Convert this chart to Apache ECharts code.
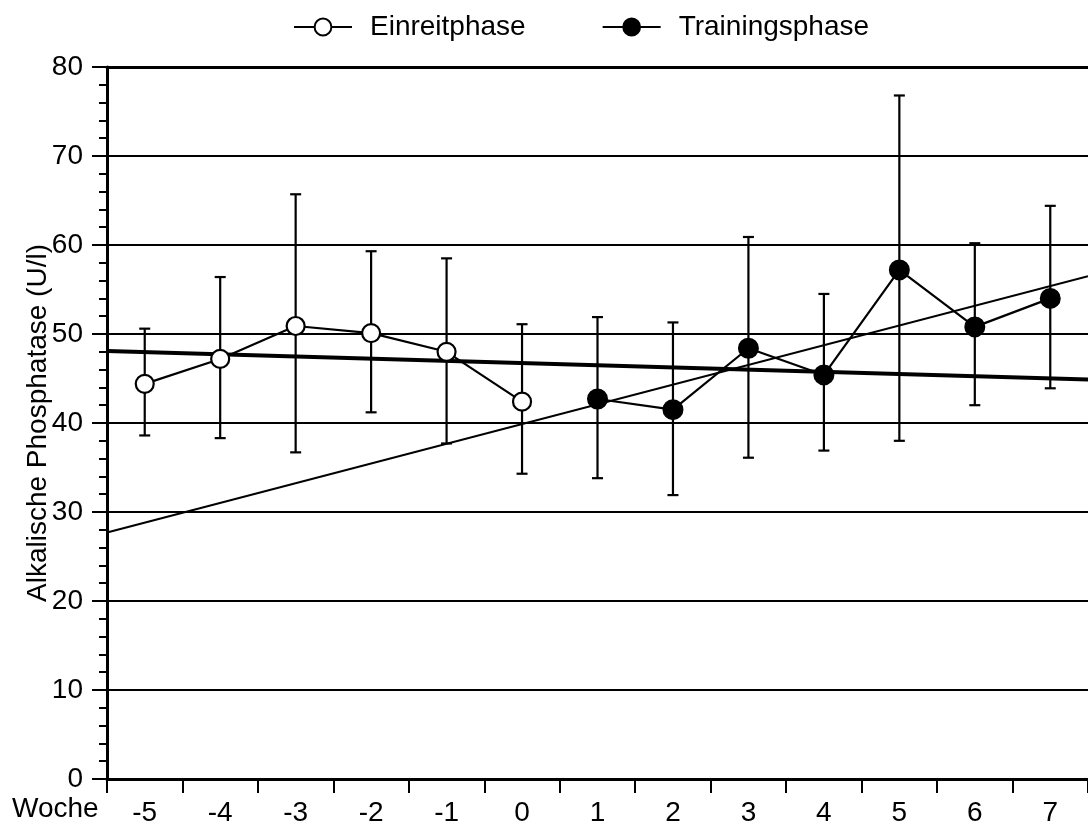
<!DOCTYPE html>
<html>
<head>
<meta charset="utf-8">
<script src="https://cdn.jsdelivr.net/npm/echarts@6/dist/echarts.min.js"></script>
<style>html,body{margin:0;padding:0;background:#fff}#c{width:1088px;height:827px}</style>
</head>
<body>
<div id="c"></div>
<script>
const weeks = ['-5','-4','-3','-2','-1','0','1','2','3','4','5','6','7'];
const einreitMean = [44.4, 47.2, 50.9, 50.1, 48.0, 42.4, null, null, null, null, null, null, null];
const einreitHigh = [50.6, 56.4, 65.7, 59.3, 58.5, 51.1, null, null, null, null, null, null, null];
const einreitLow  = [38.6, 38.3, 36.7, 41.2, 37.7, 34.3, null, null, null, null, null, null, null];
const trainMean = [null, null, null, null, null, null, 42.7, 41.5, 48.4, 45.4, 57.2, 50.8, 54.0];
const trainHigh = [null, null, null, null, null, null, 51.9, 51.3, 60.9, 54.5, 76.8, 60.2, 64.4];
const trainLow  = [null, null, null, null, null, null, 33.8, 31.9, 36.1, 36.9, 38.0, 42.0, 43.9];
const trendX = [-5.5, 7.5];
const trendRising = [27.7, 56.5];
const trendFlat = [48.1, 44.9];
const yTicks = [0, 10, 20, 30, 40, 50, 60, 70, 80];

const FONT = '"Liberation Sans", Arial, Helvetica, sans-serif';
const FS = 28;

function errData(high, low) {
  const out = [];
  for (let i = 0; i < weeks.length; i++) {
    if (high[i] != null) out.push([i, low[i], high[i]]);
  }
  return out;
}
function pairs(xs, ys) { return xs.map((x, i) => [x, ys[i]]); }

const errRender = function (params, api) {
  const x = api.value(0);
  const lo = api.coord([x, api.value(1)]);
  const hi = api.coord([x, api.value(2)]);
  const w = 5.5;
  const st = { stroke: '#000', lineWidth: 2.2 };
  return {
    type: 'group',
    children: [
      { type: 'line', shape: { x1: hi[0], y1: hi[1], x2: lo[0], y2: lo[1] }, style: st },
      { type: 'line', shape: { x1: hi[0] - w, y1: hi[1], x2: hi[0] + w, y2: hi[1] }, style: st },
      { type: 'line', shape: { x1: lo[0] - w, y1: lo[1], x2: lo[0] + w, y2: lo[1] }, style: st }
    ]
  };
};

const chart = echarts.init(document.getElementById('c'), null, { renderer: 'canvas' });
chart.setOption({
  backgroundColor: '#fff',
  animation: false,
  textStyle: { fontFamily: FONT, color: '#000' },
  legend: {
    left: 288,
    top: 8,
    itemWidth: 58,
    itemHeight: 21,
    itemGap: 76,
    data: ['Einreitphase', 'Trainingsphase'],
    textStyle: { fontFamily: FONT, fontSize: FS, color: '#000', padding: [0, 0, 0, 13] }
  },
  grid: { left: 107, right: 0, top: 67, bottom: 45, containLabel: false },
  xAxis: [
    {
      type: 'category',
      data: weeks,
      boundaryGap: true,
      position: 'bottom',
      axisLine: { show: true, onZero: false, lineStyle: { color: '#000', width: 3 } },
      axisTick: { show: true, inside: false, length: 14, lineStyle: { color: '#000', width: 2 } },
      axisLabel: { color: '#000', fontFamily: FONT, fontSize: FS, margin: 20, interval: 0 },
      splitLine: { show: false }
    },
    {
      type: 'value',
      min: trendX[0],
      max: trendX[1],
      position: 'top',
      axisLine: { show: true, onZero: false, lineStyle: { color: '#000', width: 3 } },
      axisTick: { show: false },
      axisLabel: { show: false },
      splitLine: { show: false }
    }
  ],
  yAxis: {
    type: 'value',
    min: yTicks[0],
    max: yTicks[yTicks.length - 1],
    interval: 10,
    position: 'left',
    name: 'Alkalische Phosphatase (U/l)',
    nameLocation: 'middle',
    nameGap: 55,
    nameMoveOverlap: false,
    nameTextStyle: { fontFamily: FONT, fontSize: FS, color: '#000' },
    axisLine: { show: true, onZero: false, lineStyle: { color: '#000', width: 3 } },
    axisTick: { show: true, length: 15, lineStyle: { color: '#000', width: 2 } },
    minorTick: { show: true, splitNumber: 5, length: 8, lineStyle: { color: '#000', width: 2 } },
    axisLabel: { color: '#000', fontFamily: FONT, fontSize: FS, margin: 24 },
    splitLine: { show: true, lineStyle: { color: '#000', width: 2 } }
  },
  graphic: [
    { type: 'text', left: 12, top: 795, style: { text: 'Woche', font: FS + 'px ' + FONT, fill: '#000' } }
  ],
  series: [
    {
      name: 'trendRising', type: 'line', xAxisIndex: 1, data: pairs(trendX, trendRising),
      symbol: 'none', lineStyle: { color: '#000', width: 2 }, silent: true, z: 1
    },
    {
      name: 'trendFlat', type: 'line', xAxisIndex: 1, data: pairs(trendX, trendFlat),
      symbol: 'none', lineStyle: { color: '#000', width: 4 }, silent: true, z: 1
    },
    {
      name: 'errE', type: 'custom', xAxisIndex: 0, data: errData(einreitHigh, einreitLow),
      renderItem: errRender, z: 2
    },
    {
      name: 'errT', type: 'custom', xAxisIndex: 0, data: errData(trainHigh, trainLow),
      renderItem: errRender, z: 2
    },
    {
      name: 'Einreitphase', type: 'line', xAxisIndex: 0, data: einreitMean,
      symbol: 'circle', symbolSize: 18, showSymbol: true, connectNulls: false,
      lineStyle: { color: '#000', width: 2.2 },
      itemStyle: { color: '#fff', borderColor: '#000', borderWidth: 2.2 }, z: 3
    },
    {
      name: 'Trainingsphase', type: 'line', xAxisIndex: 0, data: trainMean,
      symbol: 'circle', symbolSize: 19, showSymbol: true, connectNulls: false,
      lineStyle: { color: '#000', width: 2.2 },
      itemStyle: { color: '#000', borderColor: '#000', borderWidth: 2 }, z: 3
    }
  ]
});
</script>
</body>
</html>
